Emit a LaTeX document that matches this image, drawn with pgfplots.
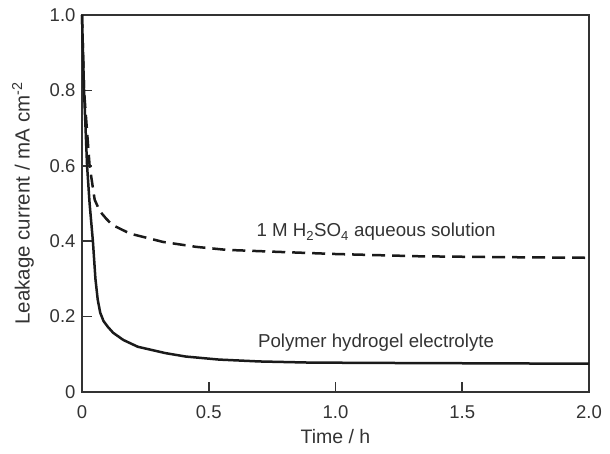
\documentclass[border=0pt]{standalone}
\usepackage{fontspec}
\setmainfont{Liberation Sans}
\usepackage{pgfplots}
\pgfplotsset{compat=1.18}
\definecolor{axisgray}{HTML}{333333}
\definecolor{curve}{HTML}{1A1A1A}

\begin{document}
\begin{tikzpicture}
\begin{axis}[
    scale only axis,
    width=507pt, height=377pt,
    xmin=0, xmax=2, ymin=0, ymax=1,
    axis line style={axisgray, line width=1.8pt},
    tick style={axisgray, line width=1.6pt},
    major tick length=10pt,
    tick align=inside,
    xtick pos=bottom, ytick pos=left,
    xtick={0,0.5,1,1.5,2},
    xticklabels={0,0.5,1.0,1.5,2.0},
    ytick={0,0.2,0.4,0.6,0.8,1},
    yticklabels={0,0.2,0.4,0.6,0.8,1.0},
    ticklabel style={font=\fontsize{18.5}{20}\selectfont, text=axisgray},
    xticklabel style={yshift=-10pt},
    yticklabel style={xshift=-3pt},
    /pgf/number format/assume math mode=true,
    xlabel={Time / h},
    ylabel={Leakage current / mA cm\textsuperscript{-2}},
    label style={font=\fontsize{19.5}{21}\selectfont, text=axisgray},
    ylabel style={font=\fontsize{20.5}{22}\selectfont, yshift=9pt},
    xlabel style={yshift=-4pt},
    clip=false,
]
\addplot[curve, line width=2.5pt, line join=round] coordinates {
    (0,1.0) (0.008,0.8) (0.02,0.6) (0.03,0.5) (0.043,0.4) (0.053,0.3)
    (0.062,0.245) (0.072,0.21) (0.085,0.188) (0.103,0.172) (0.123,0.157)
    (0.163,0.138) (0.22,0.12) (0.33,0.103) (0.41,0.094) (0.54,0.086)
    (0.7,0.081) (0.9,0.078) (1.2,0.077) (1.6,0.076) (2.0,0.075)
};
\addplot[curve, line width=2.5pt, dash pattern=on 13pt off 7pt] coordinates {
    (0,1.0) (0.008,0.8) (0.03,0.6) (0.05,0.51) (0.07,0.48) (0.095,0.46)
    (0.12,0.443) (0.19,0.42) (0.32,0.398) (0.45,0.385) (0.57,0.377)
    (0.8,0.371) (1.0,0.366) (1.33,0.36) (1.6,0.358) (2.0,0.356)
};
\node[font=\fontsize{18.7}{20}\selectfont, text=axisgray] at (axis cs:1.16,0.424)
    {1 M H\textsubscript{2}SO\textsubscript{4} aqueous solution};
\node[font=\fontsize{18.7}{20}\selectfont, text=axisgray] at (axis cs:1.16,0.13)
    {Polymer hydrogel electrolyte};
\end{axis}
\path ([shift={(-82pt,-62pt)}]current axis.south west)
    rectangle ([shift={(21pt,15pt)}]current axis.north east);
\end{tikzpicture}
\end{document}
